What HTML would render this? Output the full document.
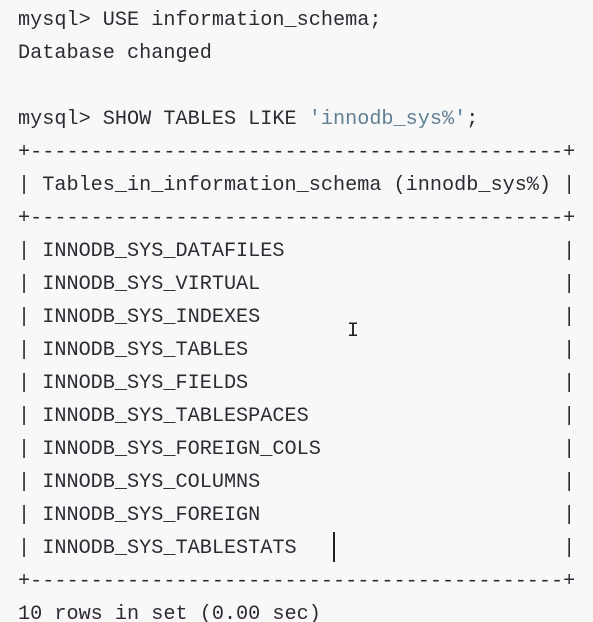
<!DOCTYPE html>
<html><head><meta charset="utf-8"><style>
html,body{margin:0;padding:0;background:#f8f8f8;width:593px;height:622px;overflow:hidden}
pre{margin:0;padding:4px 0 0 18px;font-family:"Liberation Mono",monospace;font-size:20.2px;line-height:33px;color:#2e2a33;white-space:pre}
.s{color:#5f7f93}
.cur{position:absolute;left:333px;top:532px;width:1.5px;height:30px;background:#222}
.ib{position:absolute;left:347px;top:320px;font-family:"Liberation Mono",monospace;font-size:20px;color:#222}
</style></head><body>
<pre>mysql&gt; USE information_schema;
Database changed

mysql&gt; SHOW TABLES LIKE <span class="s">'innodb_sys%'</span>;
+--------------------------------------------+
| Tables_in_information_schema (innodb_sys%) |
+--------------------------------------------+
| INNODB_SYS_DATAFILES                       |
| INNODB_SYS_VIRTUAL                         |
| INNODB_SYS_INDEXES                         |
| INNODB_SYS_TABLES                          |
| INNODB_SYS_FIELDS                          |
| INNODB_SYS_TABLESPACES                     |
| INNODB_SYS_FOREIGN_COLS                    |
| INNODB_SYS_COLUMNS                         |
| INNODB_SYS_FOREIGN                         |
| INNODB_SYS_TABLESTATS                      |
+--------------------------------------------+
10 rows in set (0.00 sec)</pre>
<div class="cur"></div>
<div class="ib">I</div>
</body></html>
